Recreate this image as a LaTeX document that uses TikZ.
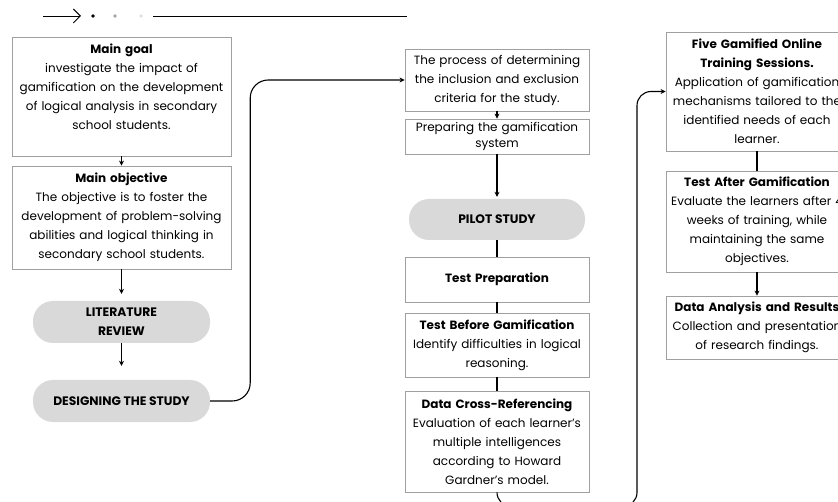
\documentclass[tikz,border=0pt]{standalone}
\usepackage{fontspec}
\setmainfont[Ligatures=NoCommon]{Poppins}
\usetikzlibrary{arrows.meta}
\definecolor{pillgray}{HTML}{D9D9D9}
\definecolor{boxline}{HTML}{A0A0A0}
\newcommand\wideline[1]{\makebox[\linewidth]{#1}}
\tikzset{
  box/.style={draw=boxline, line width=0.8pt, fill=white, align=center,
    inner xsep=2pt, inner ysep=0pt, font=\fontsize{12}{19}\selectfont},
  pill/.style={fill=pillgray, rounded corners=20pt, align=center,
    inner sep=0pt, font=\fontsize{12.3}{19}\selectfont\bfseries},
  flow/.style={-{Stealth[length=5pt,width=5pt]}, line width=1.1pt},
  link/.style={line width=1.1pt}
}

\begin{document}
\begin{tikzpicture}[x=1pt, y=-1pt]
\useasboundingbox (0,0) rectangle (838,502);
\clip (0,0) rectangle (838,502);

% header
\coordinate (hstart) at (43,16);
\coordinate (htip) at (81,16);
\draw[line width=0.9pt, -{Straight Barb[length=7pt,width=14pt]}] (hstart) -- (htip);
\fill (93,16) circle [radius=1.8pt];
\fill[gray!70] (115,16) circle [radius=1.8pt];
\fill[gray!25] (141,16) circle [radius=1.8pt];
\draw[line width=0.9pt] (153,16) -- (407,16);

% first column
\node[box, minimum width=219pt, minimum height=119pt, text width=215pt] (goal) at (121.5,96.5)
  {\textbf{Main goal}\\ investigate the impact of\\ gamification on the development\\
   of logical analysis in secondary\\ school students.\\ \mbox{}};
\node[box, minimum width=219pt, minimum height=103pt, text width=215pt] (obj) at (121.5,217.5)
  {\textbf{Main objective}\\ The objective is to foster the\\ development of problem-solving\\
   abilities and logical thinking in\\ secondary school students.};
\node[pill, minimum width=177pt, minimum height=42pt] (lit) at (121.5,322)
  {LITERATURE\\ REVIEW};
\node[pill, minimum width=177pt, minimum height=42pt] (design) at (121.5,401)
  {DESIGNING THE STUDY};

% second column
\node[box, minimum width=184pt, minimum height=62pt, text width=180pt] (incl) at (497,80)
  {The process of determining\\ the inclusion and exclusion\\ criteria for the study.};
\node[box, minimum width=184pt, minimum height=35pt, text width=180pt,
  font=\fontsize{12}{16.5}\selectfont] (prep) at (497,136.5)
  {Preparing the gamification\\ system};
\node[pill, minimum width=176pt, minimum height=41pt] (pilot) at (497,219.5)
  {PILOT STUDY};
\node[box, minimum width=184pt, minimum height=45pt, text width=180pt] (tprep) at (497,279.5)
  {\textbf{Test Preparation}};
\node[box, minimum width=184pt, minimum height=64pt, text width=180pt] (before) at (497,345)
  {\textbf{Test Before Gamification}\\ Identify difficulties in logical\\ reasoning.};
\node[box, minimum width=184pt, minimum height=101pt, text width=180pt] (cross) at (497,441.5)
  {\textbf{Data Cross-Referencing}\\ Evaluation of each learner's\\ multiple intelligences\\
   according to Howard\\ Gardner's model.};

% third column
\node[box, minimum width=182pt, minimum height=119pt, text width=178pt] (sess) at (757,91.5)
  {\textbf{Five Gamified Online}\\ \textbf{Training Sessions.}\\ \wideline{Application of gamification}\\
   \wideline{mechanisms tailored to the}\\ identified needs of each\\ learner.};
\node[box, minimum width=182pt, minimum height=101pt, text width=178pt] (after) at (757,221.5)
  {\textbf{Test After Gamification}\\ \wideline{Evaluate the learners after 4}\\ weeks of training, while\\
   maintaining the same\\ objectives.};
\node[box, minimum width=182pt, minimum height=63pt, text width=178pt] (results) at (757,327.5)
  {\wideline{\textbf{Data Analysis and Results}}\\ \wideline{Collection and presentation}\\ of research findings.};

% connectors
\draw[flow] (goal) -- (obj);
\draw[flow, shorten >=7pt] (obj) -- (lit);
\draw[flow, shorten >=14pt] (lit) -- (design);
\draw[flow, rounded corners=18pt] (design.east) -- ++(40,0) |- (incl.west);
\draw[flow] (incl) -- (prep);
\draw[flow, shorten >=2pt] (prep) -- (pilot);
\draw[link] (pilot) -- (tprep);
\draw[link] (tprep) -- (before);
\draw[link] (before) -- (cross);
\draw[flow, rounded corners=14pt] (cross.south) -- ++(0,14) -| (637,200) |- (sess.west);
\draw[link] (sess) -- (after);
\draw[flow] (after) -- (results);
\end{tikzpicture}
\end{document}
